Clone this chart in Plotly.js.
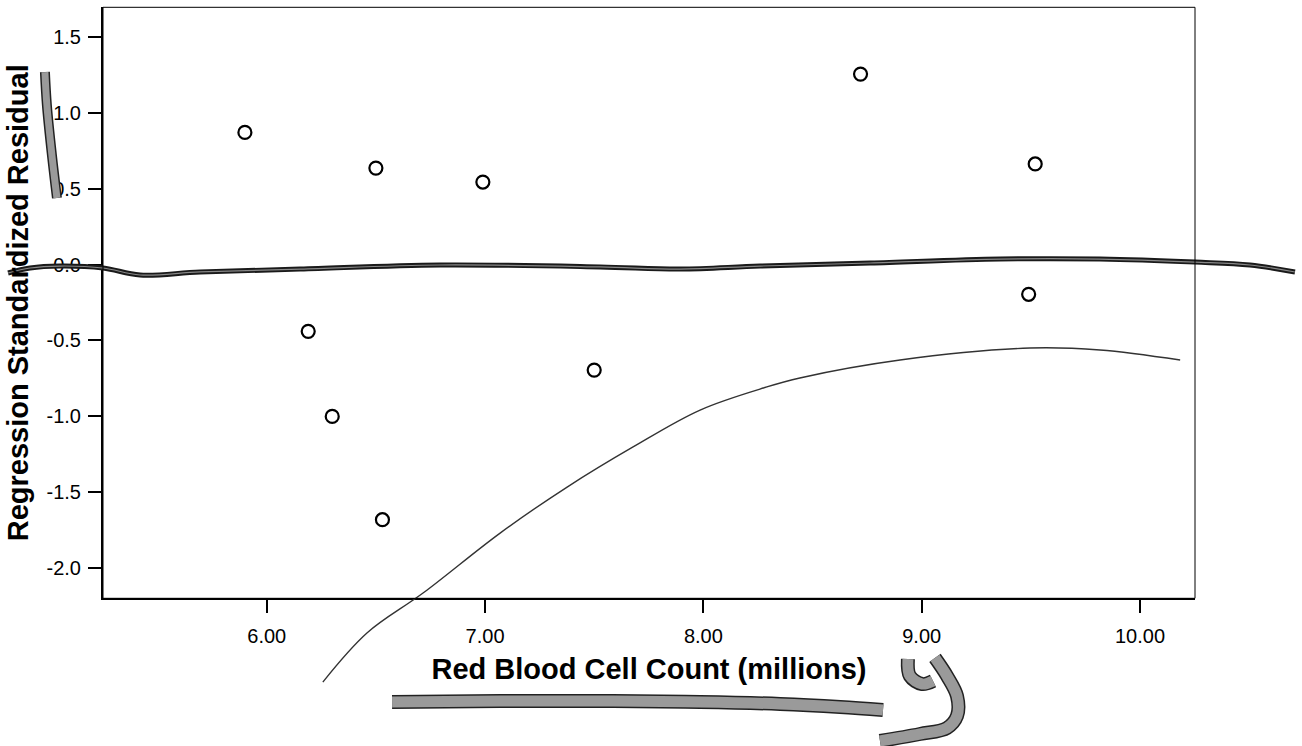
<!DOCTYPE html>
<html>
<head>
<meta charset="utf-8">
<script src="https://cdn.plot.ly/plotly-3.0.1.min.js"></script>
<style>html,body{margin:0;padding:0;background:#fff;}#chart{width:1302px;height:746px;}</style>
</head>
<body>
<div id="chart"></div>
<script>
// Scatter data: RBC count (millions) vs regression standardized residual
const rbcCount = [5.90, 6.19, 6.30, 6.50, 6.53, 6.99, 7.50, 8.72, 9.49, 9.52];
const stdResidual = [0.87, -0.44, -1.00, 0.635, -1.68, 0.543, -0.695, 1.254, -0.196, 0.662];

// Axis ticks
const xTicks = [6, 7, 8, 9, 10];
const xTickLabels = ["6.00", "7.00", "8.00", "9.00", "10.00"];
const yTicks = [-2.0, -1.5, -1.0, -0.5, 0.0, 0.5, 1.0, 1.5];
const yTickLabels = ["-2.0", "-1.5", "-1.0", "-0.5", "0.0", "0.5", "1.0", "1.5"];

// Hand-drawn annotation strokes (in chart units, may extend beyond the frame)
const zeroStrokeX = [4.815, 4.916, 5.053, 5.250, 5.420, 5.695, 6.153, 6.794, 7.527, 7.894, 8.260, 8.764, 9.359, 9.817, 10.252, 10.504, 10.710];
const zeroStrokeY = [-0.056, -0.023, -0.010, -0.023, -0.069, -0.049, -0.030, -0.003, -0.016, -0.030, -0.010, 0.010, 0.036, 0.036, 0.016, -0.003, -0.049];
const curveStrokeX = [6.257, 6.459, 6.716, 7.069, 7.376, 7.678, 7.985, 8.291, 8.442, 8.901, 9.496, 9.817, 10.184];
const curveStrokeY = [-2.749, -2.426, -2.163, -1.768, -1.465, -1.201, -0.958, -0.806, -0.747, -0.629, -0.550, -0.563, -0.629];
const markYTitleX = [4.984, 4.993, 5.016, 5.039];
const markYTitleY = [1.267, 1.050, 0.721, 0.438];
const markXTitleX = [6.574, 7.069, 7.586, 7.985, 8.352, 8.627, 8.823];
const markXTitleY = [-2.880, -2.874, -2.874, -2.880, -2.893, -2.913, -2.933];
const markYLetterLeftX = [8.937, 8.946, 9.002, 9.052];
const markYLetterLeftY = [-2.597, -2.709, -2.762, -2.742];
const markYLetterRightX = [9.061, 9.116, 9.162, 9.162, 9.116, 8.992, 8.809];
const markYLetterRightY = [-2.590, -2.709, -2.841, -2.972, -3.051, -3.091, -3.137];

// Layout geometry
const W = 1302, H = 746;
const xDom = [103 / W, 1195 / W];
const yDom = [1 - 598.3 / H, 1 - 7.3 / H];
const xRange = [5.25, 10.252];
const yRange = [-2.1975, 1.6935];
function extend(r, d) {
  const s = (r[1] - r[0]) / (d[1] - d[0]);
  return [r[0] - d[0] * s, r[1] + (1 - d[1]) * s];
}
const x2Range = extend(xRange, xDom);
const y2Range = extend(yRange, yDom);

const font = "Liberation Sans, Arial, sans-serif";

function stroke(x, y, width, color) {
  return {x: x, y: y, xaxis: 'x2', yaxis: 'y2', type: 'scatter', mode: 'lines',
    line: {color: color, width: width, shape: 'spline', smoothing: 1},
    hoverinfo: 'skip', showlegend: false};
}

const traces = [
  {x: rbcCount, y: stdResidual, type: 'scatter', mode: 'markers',
   marker: {symbol: 'circle-open', size: 13, color: '#000', line: {width: 2.2, color: '#000'}},
   showlegend: false},
  stroke(zeroStrokeX, zeroStrokeY, 5, '#1a1a1a'),
  stroke(zeroStrokeX, zeroStrokeY, 1.2, '#888'),
  stroke(curveStrokeX, curveStrokeY, 1.4, '#333'),
  stroke(markYTitleX, markYTitleY, 10, '#222'),
  stroke(markYTitleX, markYTitleY, 7, '#9a9a9a'),
  stroke(markXTitleX, markXTitleY, 14, '#222'),
  stroke(markXTitleX, markXTitleY, 11, '#9a9a9a'),
  stroke(markYLetterLeftX, markYLetterLeftY, 14, '#222'),
  stroke(markYLetterLeftX, markYLetterLeftY, 11, '#9a9a9a'),
  stroke(markYLetterRightX, markYLetterRightY, 14, '#222'),
  stroke(markYLetterRightX, markYLetterRightY, 11, '#9a9a9a')
];

const layout = {
  width: W, height: H,
  margin: {l: 0, r: 0, t: 0, b: 0, pad: 0},
  paper_bgcolor: '#fff', plot_bgcolor: 'rgba(0,0,0,0)',
  font: {family: font, color: '#000', size: 20},
  showlegend: false,
  xaxis: {
    domain: xDom, range: xRange, tickvals: xTicks, ticktext: xTickLabels, anchor: 'y',
    ticks: 'outside', ticklen: 13, tickwidth: 2, tickcolor: '#000', ticklabelstandoff: 6,
    showline: true, linecolor: '#000', linewidth: 2, showgrid: false, zeroline: false,
    tickfont: {family: font, size: 20, color: '#000'},
    automargin: false,
    title: {text: 'Red Blood Cell Count (millions)', font: {family: font, size: 29, color: '#000', weight: 'bold'}, standoff: 12}
  },
  yaxis: {
    domain: yDom, range: yRange, tickvals: yTicks, ticktext: yTickLabels, anchor: 'x',
    ticks: 'outside', ticklen: 13, tickwidth: 2, tickcolor: '#000', ticklabelstandoff: 3,
    showline: true, linecolor: '#000', linewidth: 2, showgrid: false, zeroline: false,
    tickfont: {family: font, size: 20, color: '#000'},
    automargin: false,
    title: {text: 'Regression Standardized Residual', font: {family: font, size: 29, color: '#000', weight: 'bold'}, standoff: 9}
  },
  xaxis2: {domain: [0, 1], range: x2Range, anchor: 'y2', visible: false, fixedrange: true},
  yaxis2: {domain: [0, 1], range: y2Range, anchor: 'x2', visible: false, fixedrange: true},
  shapes: [
    {type: 'rect', xref: 'x domain', yref: 'y domain', x0: 0, x1: 1, y0: 0, y1: 1,
     line: {color: '#000', width: 1}, fillcolor: 'rgba(0,0,0,0)', layer: 'above'}
  ]
};

Plotly.newPlot('chart', traces, layout, {displayModeBar: false, staticPlot: true});
</script>
</body>
</html>
